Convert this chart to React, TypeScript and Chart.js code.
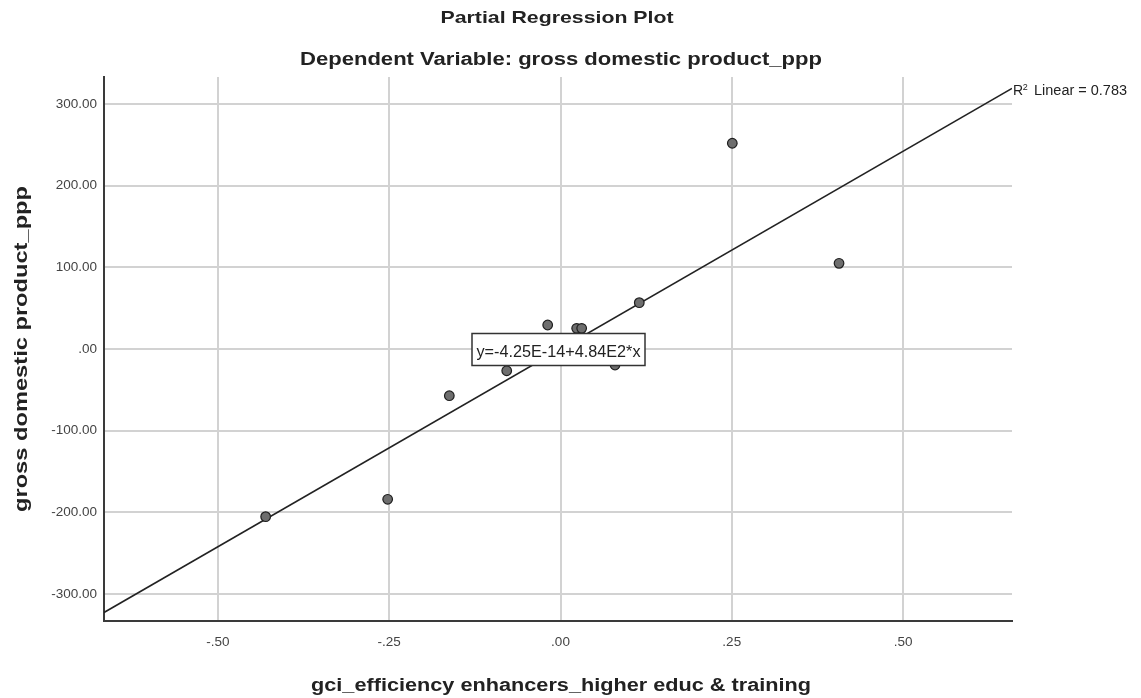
import React, { useEffect, useRef } from 'react';
import { Chart, registerables } from 'chart.js';

Chart.register(...registerables);

// ---- data ----
const xValues = [-0.4304, -0.2523, -0.1623, -0.0785, -0.0187, 0.0236, 0.0309, 0.0796, 0.115, 0.2508, 0.4066];
const yValues = [-205.3, -184.0, -57.2, -26.6, 29.4, 25.3, 25.3, -19.6, 56.7, 251.9, 104.9];
const xTicks = [-0.5, -0.25, 0, 0.25, 0.5];
const yTicks = [-300, -200, -100, 0, 100, 200, 300];
const xRange = [-0.6664, 0.6591];
const yRange = [-333, 333];
const fitIntercept = -4.25e-14;
const fitSlope = 484;
const rSquaredText = 'Linear = 0.783';
const titleText = 'Partial Regression Plot';
const subtitleText = 'Dependent Variable: gross domestic product_ppp';
const xTitleText = 'gci_efficiency enhancers_higher educ & training';
const yTitleText = 'gross domestic product_ppp';
const equationText = 'y=-4.25E-14+4.84E2*x';

const fmt = (v: number) => v.toFixed(2).replace(/^(-?)0\./, '$1.');

const SANS = '"Liberation Sans", Arial, sans-serif';

function stretchText(
  ctx: CanvasRenderingContext2D,
  text: string,
  x: number,
  y: number,
  font: string,
  targetWidth: number | null,
  align: CanvasTextAlign,
  rotate = false,
  color = '#222'
) {
  ctx.save();
  ctx.font = font;
  ctx.fillStyle = color;
  const w = ctx.measureText(text).width;
  const sx = targetWidth ? targetWidth / w : 1;
  ctx.translate(x, y);
  if (rotate) ctx.rotate(-Math.PI / 2);
  ctx.scale(sx, 1);
  ctx.textAlign = align;
  ctx.textBaseline = 'alphabetic';
  ctx.fillText(text, 0, 0);
  ctx.restore();
}

const decorPlugin = {
  id: 'decor',
  beforeDraw(chart: any) {
    const ctx = chart.ctx;
    ctx.save();
    ctx.fillStyle = '#ffffff';
    ctx.fillRect(0, 0, chart.width, chart.height);
    ctx.restore();
  },
  afterDraw(chart: any) {
    const ctx: CanvasRenderingContext2D = chart.ctx;
    const xs = chart.scales.x;
    const ys = chart.scales.y;
    const area = chart.chartArea;
    const cx = (area.left + area.right) / 2;

    stretchText(ctx, titleText, cx - 1, 23, `bold 17px ${SANS}`, 233, 'center');
    stretchText(ctx, subtitleText, cx + 3, 65, `bold 18px ${SANS}`, 522, 'center');
    stretchText(ctx, xTitleText, cx + 3, 691, `bold 18px ${SANS}`, 500, 'center');
    stretchText(ctx, yTitleText, 26.5, (area.top + area.bottom) / 2, `bold 18px ${SANS}`, 326, 'center', true);

    // equation label at data origin
    const ex = xs.getPixelForValue(0) - 2;
    const ey = ys.getPixelForValue(0) + 0.5;
    const bw = 173;
    const bh = 32;
    ctx.save();
    ctx.fillStyle = '#ffffff';
    ctx.fillRect(ex - bw / 2, ey - bh / 2, bw, bh);
    ctx.strokeStyle = '#333';
    ctx.lineWidth = 1.5;
    ctx.strokeRect(ex - bw / 2, ey - bh / 2, bw, bh);
    ctx.restore();
    stretchText(ctx, equationText, ex, ey + 7, `16px ${SANS}`, 164, 'center', false, '#222');

    // R^2 label at the end of the fit line
    const rx = area.right + 1;
    const rb = 95;
    ctx.save();
    ctx.fillStyle = '#222';
    ctx.font = `14px ${SANS}`;
    ctx.textBaseline = 'alphabetic';
    ctx.textAlign = 'left';
    ctx.fillText('R', rx, rb);
    ctx.font = `9px ${SANS}`;
    ctx.fillText('2', rx + 9.7, rb - 5.5);
    ctx.restore();
    stretchText(ctx, rSquaredText, rx + 21, rb, `14px ${SANS}`, 93, 'left', false, '#222');
  },
};

export default function App() {
  const ref = useRef<HTMLCanvasElement>(null);

  useEffect(() => {
    const tickFont = { family: SANS, size: 13.5 };
    const chart = new Chart(ref.current as HTMLCanvasElement, {
      type: 'scatter',
      data: {
        datasets: [
          {
            label: 'points',
            data: xValues.map((x, i) => ({ x, y: yValues[i] })),
            backgroundColor: '#6e6e6e',
            borderColor: '#1e1e1e',
            borderWidth: 1.2,
            pointRadius: 4.8,
            order: 0,
          },
          {
            label: 'fit',
            type: 'line',
            data: xRange.map((x) => ({ x, y: fitIntercept + fitSlope * x })),
            borderColor: '#222',
            borderWidth: 1.6,
            pointRadius: 0,
            showLine: true,
            fill: false,
            order: 1,
          } as any,
        ],
      },
      options: {
        responsive: false,
        animation: false,
        layout: { padding: { top: 77, right: 129, bottom: 0, left: 0 } },
        plugins: {
          legend: { display: false },
          tooltip: { enabled: false },
          title: { display: false },
        },
        scales: {
          x: {
            type: 'linear',
            min: xRange[0],
            max: xRange[1],
            afterBuildTicks: (s: any) => {
              s.ticks = xTicks.map((v) => ({ value: v }));
            },
            afterFit: (s: any) => {
              s.height = 77;
            },
            grid: { color: '#d2d2d2', lineWidth: 2, drawTicks: false },
            border: { display: true, color: '#3a3a3a', width: 2 },
            ticks: {
              padding: 13,
              color: '#444',
              font: tickFont,
              maxRotation: 0,
              autoSkip: false,
              callback: (v: any) => fmt(Number(v)),
            },
          },
          y: {
            type: 'linear',
            min: yRange[0],
            max: yRange[1],
            afterBuildTicks: (s: any) => {
              s.ticks = yTicks.map((v) => ({ value: v }));
            },
            afterFit: (s: any) => {
              s.width = 104;
            },
            grid: { color: '#d2d2d2', lineWidth: 2, drawTicks: false },
            border: { display: true, color: '#3a3a3a', width: 2 },
            ticks: {
              padding: 7,
              color: '#444',
              font: tickFont,
              autoSkip: false,
              callback: (v: any) => fmt(Number(v)),
            },
          },
        },
      },
      plugins: [decorPlugin],
    } as any);
    return () => chart.destroy();
  }, []);

  return (
    <canvas
      ref={ref}
      width={1141}
      height={698}
      style={{ position: 'fixed', left: 0, top: 0, width: 1141, height: 698 }}
    />
  );
}
